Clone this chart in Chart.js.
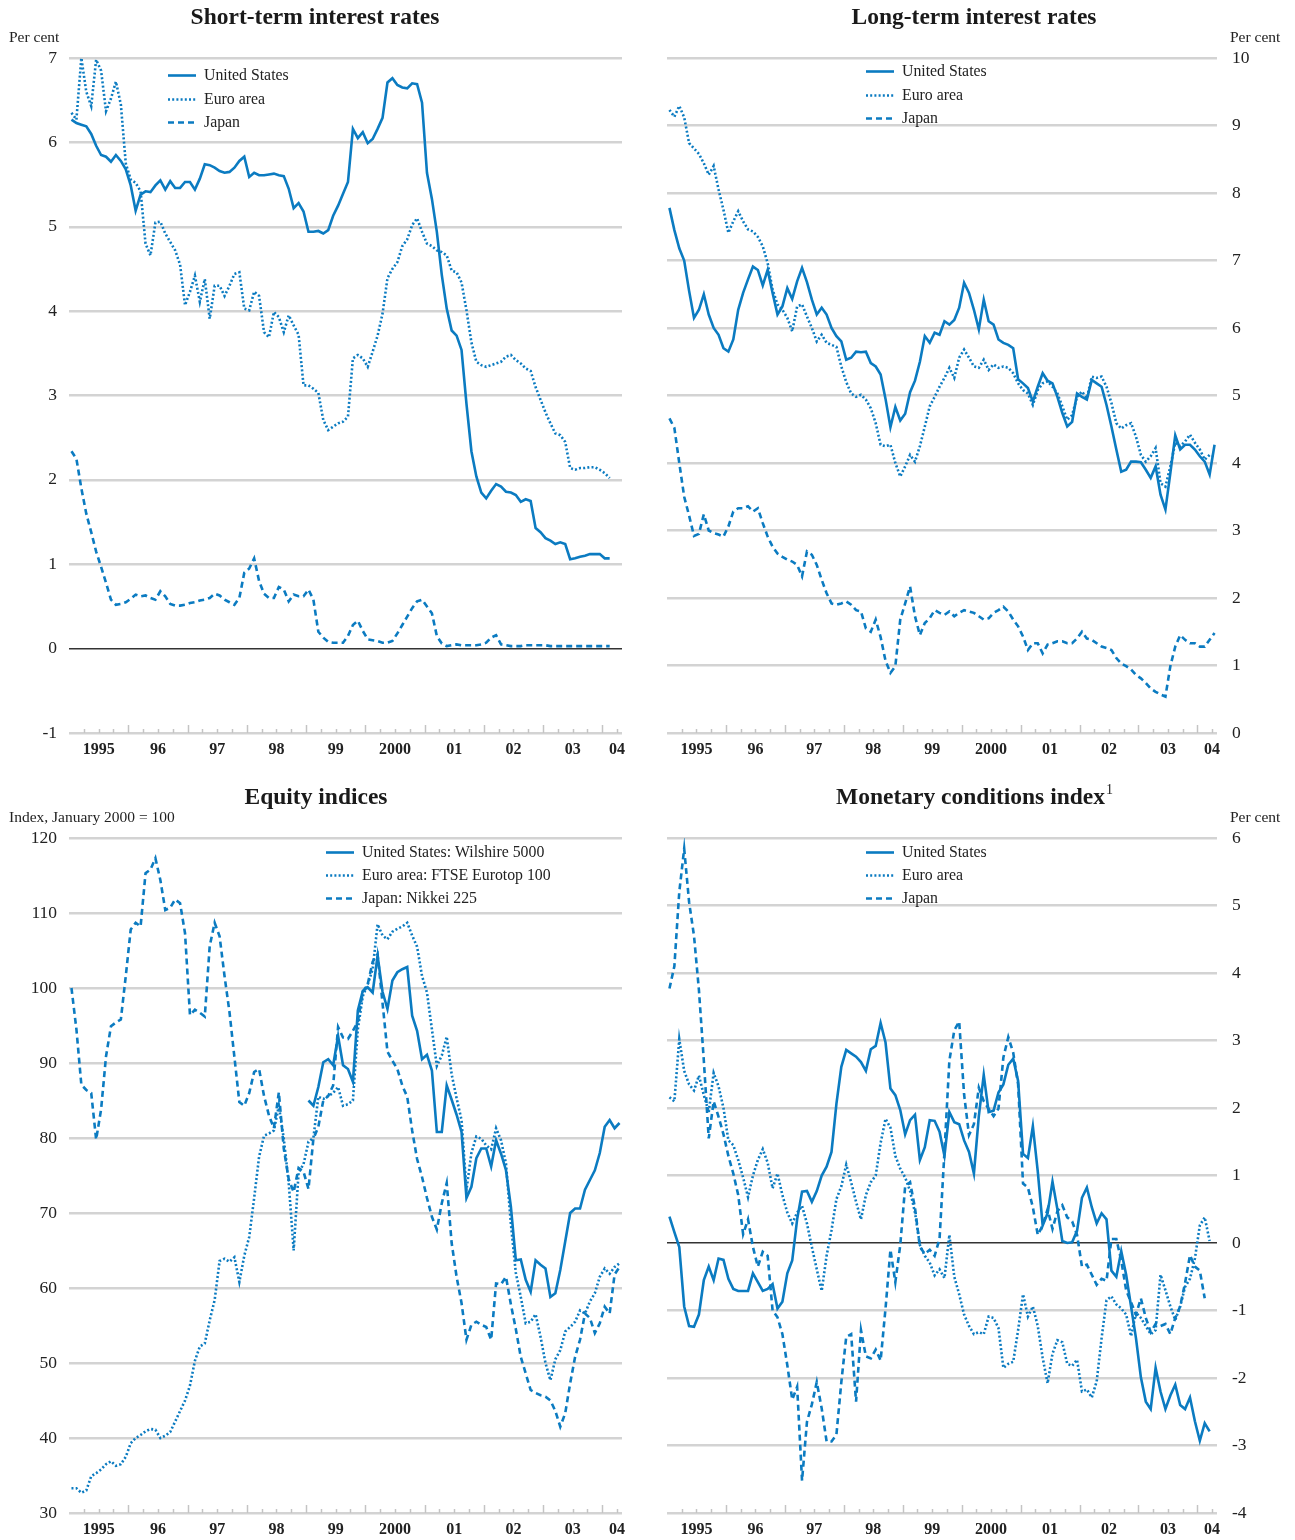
<!DOCTYPE html>
<html>
<head>
<meta charset="utf-8">
<script src="https://cdn.jsdelivr.net/npm/chart.js@4.4.1/dist/chart.umd.min.js"></script>
<style>
  html, body { margin: 0; padding: 0; background: #fff; }
  #wrap { position: relative; width: 1295px; height: 1540px; }
  .panel { position: absolute; }
</style>
</head>
<body>
<div id="wrap">
  <div class="panel" style="left:0;top:0"><canvas id="c1" width="647" height="780"></canvas></div>
  <div class="panel" style="left:647px;top:0"><canvas id="c2" width="648" height="780"></canvas></div>
  <div class="panel" style="left:0;top:780px"><canvas id="c3" width="647" height="760"></canvas></div>
  <div class="panel" style="left:647px;top:780px"><canvas id="c4" width="648" height="760"></canvas></div>
</div>
<script>
// monthly data, first value = January 1995
const yearLabels = ['1995', '96', '97', '98', '99', '2000', '01', '02', '03', '04'];
const countryLabels = ['United States', 'Euro area', 'Japan'];
const equityLabels = ['United States: Wilshire 5000', 'Euro area: FTSE Eurotop 100', 'Japan: Nikkei 225'];

// short-term interest rates, Jan 1995 - Feb 2004
const shortUs = [6.27,6.23,6.21,6.19,6.10,5.96,5.85,5.83,5.77,5.85,
  5.78,5.68,5.49,5.19,5.38,5.42,5.41,5.49,5.55,5.44,
  5.54,5.46,5.46,5.53,5.53,5.44,5.57,5.74,5.73,5.70,
  5.66,5.64,5.65,5.70,5.78,5.83,5.59,5.64,5.61,5.61,
  5.62,5.63,5.61,5.60,5.45,5.22,5.28,5.18,4.94,4.94,
  4.95,4.92,4.96,5.13,5.25,5.39,5.53,6.16,6.05,6.12,
  5.99,6.04,6.16,6.29,6.71,6.76,6.68,6.65,6.64,6.70,
  6.69,6.47,5.64,5.33,4.94,4.43,4.03,3.77,3.71,3.54,
  2.90,2.34,2.04,1.85,1.78,1.87,1.95,1.92,1.86,1.85,
  1.82,1.74,1.77,1.75,1.43,1.38,1.31,1.28,1.24,1.26,
  1.24,1.06,1.07,1.09,1.10,1.12,1.12,1.12,1.07,1.07];
const shortEuro = [6.35,6.27,7.0,6.6,6.43,6.98,6.85,6.37,6.52,6.72,
  6.45,5.75,5.56,5.52,5.42,4.80,4.66,5.05,5.06,4.92,
  4.82,4.72,4.55,4.07,4.23,4.42,4.11,4.38,3.91,4.30,
  4.30,4.18,4.30,4.44,4.46,4.03,4.01,4.23,4.18,3.75,
  3.69,3.99,3.93,3.75,3.95,3.83,3.72,3.12,3.12,3.08,
  3.03,2.71,2.59,2.63,2.67,2.69,2.75,3.44,3.48,3.44,
  3.34,3.52,3.71,3.97,4.39,4.50,4.58,4.77,4.85,5.02,
  5.10,4.94,4.80,4.77,4.72,4.70,4.66,4.48,4.46,4.34,
  4.01,3.63,3.40,3.36,3.34,3.36,3.38,3.40,3.46,3.48,
  3.42,3.38,3.32,3.29,3.10,2.95,2.80,2.67,2.55,2.53,
  2.45,2.14,2.12,2.14,2.14,2.15,2.15,2.12,2.08,2.02];
const shortJapan = [2.34,2.25,1.90,1.60,1.38,1.15,0.97,0.78,0.58,0.52,
  0.53,0.55,0.59,0.64,0.62,0.63,0.60,0.58,0.68,0.62,
  0.53,0.51,0.51,0.52,0.54,0.55,0.57,0.58,0.60,0.65,
  0.63,0.58,0.55,0.52,0.60,0.90,0.95,1.07,0.80,0.65,
  0.60,0.60,0.73,0.70,0.56,0.64,0.62,0.62,0.70,0.58,
  0.20,0.13,0.08,0.07,0.07,0.07,0.15,0.28,0.33,0.21,
  0.11,0.10,0.09,0.07,0.07,0.09,0.18,0.28,0.38,0.48,
  0.56,0.58,0.50,0.42,0.15,0.06,0.03,0.04,0.05,0.04,
  0.04,0.04,0.04,0.05,0.07,0.13,0.16,0.05,0.04,0.03,
  0.03,0.03,0.04,0.04,0.04,0.04,0.04,0.03,0.03,0.03,
  0.03,0.03,0.03,0.03,0.03,0.03,0.03,0.03,0.03,0.03];

// long-term interest rates, Jan 1995 - Apr 2004
const longUs = [7.78,7.45,7.18,7.00,6.55,6.15,6.27,6.50,6.20,6.00,
  5.90,5.70,5.65,5.83,6.27,6.52,6.72,6.91,6.86,6.63,
  6.86,6.52,6.20,6.32,6.59,6.43,6.69,6.89,6.68,6.42,
  6.20,6.30,6.20,6.00,5.88,5.80,5.53,5.56,5.65,5.64,
  5.65,5.48,5.43,5.31,4.95,4.53,4.83,4.63,4.73,5.05,
  5.22,5.50,5.88,5.78,5.93,5.90,6.10,6.05,6.12,6.30,
  6.67,6.52,6.27,5.98,6.42,6.10,6.05,5.83,5.78,5.75,
  5.70,5.24,5.18,5.11,4.91,5.13,5.33,5.22,5.18,4.98,
  4.74,4.54,4.61,5.03,4.98,4.94,5.23,5.18,5.13,4.86,
  4.54,4.20,3.87,3.90,4.02,4.02,4.01,3.90,3.78,3.95,
  3.53,3.31,3.85,4.41,4.20,4.27,4.27,4.20,4.10,4.02,
  3.83,4.27];
const longEuro = [9.23,9.13,9.29,9.12,8.74,8.66,8.58,8.44,8.27,8.40,
  8.05,7.75,7.41,7.58,7.73,7.58,7.46,7.43,7.35,7.21,
  6.96,6.57,6.35,6.27,6.15,5.95,6.32,6.35,6.17,6.00,
  5.80,5.90,5.78,5.75,5.72,5.43,5.20,5.03,4.98,5.01,
  4.94,4.81,4.59,4.27,4.25,4.27,4.00,3.80,3.95,4.12,
  4.02,4.25,4.54,4.84,4.98,5.13,5.26,5.41,5.26,5.56,
  5.68,5.56,5.43,5.41,5.53,5.38,5.46,5.41,5.43,5.41,
  5.33,5.18,5.08,5.03,4.86,5.08,5.18,5.21,5.13,5.03,
  4.84,4.64,4.71,4.98,5.06,4.96,5.28,5.26,5.28,5.13,
  4.89,4.59,4.51,4.56,4.59,4.39,4.12,4.02,4.10,4.22,
  3.70,3.65,3.95,4.30,4.25,4.32,4.42,4.30,4.20,4.05,
  4.12,4.10];
const longJapan = [4.66,4.52,4.00,3.50,3.22,2.92,2.95,3.24,3.00,2.96,
  2.94,2.91,3.06,3.28,3.33,3.33,3.36,3.28,3.33,3.11,
  2.91,2.76,2.66,2.61,2.57,2.54,2.49,2.32,2.69,2.64,
  2.49,2.27,2.07,1.92,1.90,1.92,1.95,1.90,1.82,1.80,
  1.55,1.50,1.68,1.42,1.07,0.89,0.99,1.68,1.92,2.17,
  1.73,1.45,1.63,1.70,1.82,1.78,1.75,1.80,1.73,1.78,
  1.82,1.80,1.78,1.73,1.68,1.70,1.78,1.82,1.87,1.80,
  1.68,1.58,1.43,1.23,1.33,1.33,1.18,1.31,1.33,1.36,
  1.36,1.33,1.33,1.40,1.50,1.40,1.38,1.33,1.28,1.26,
  1.23,1.11,1.03,0.99,0.94,0.86,0.81,0.74,0.66,0.61,
  0.57,0.54,0.99,1.28,1.45,1.38,1.33,1.33,1.28,1.28,
  1.38,1.48];

// equity indices, January 2000 = 100; US series starts January 1999
const equityUsStart = 48;
const equityUs = [85.0,84.3,86.8,90.1,90.5,89.7,93.6,89.7,89.2,87.5,
  97.0,99.6,100.1,99.4,104.3,99.5,97.2,101.0,102.1,102.5,
  102.8,96.3,94.3,90.5,91.1,89.0,80.8,80.8,87.0,85.1,
  83.1,80.8,72.0,73.5,77.3,78.6,78.6,76.2,79.7,77.9,
  75.7,70.8,63.7,63.8,61.1,59.5,63.7,63.1,62.6,58.8,
  59.3,62.4,66.2,70.0,70.6,70.6,73.1,74.4,75.7,78.0,
  81.5,82.4,81.3,82.0];
const equityEuro = [33.3,33.3,32.7,33.0,34.9,35.3,35.8,36.5,36.9,36.3,
  36.5,37.5,39.3,40.0,40.4,40.9,41.2,41.1,40.0,40.3,
  40.8,42.2,43.6,45.0,47.0,50.3,52.2,52.6,55.7,58.4,
  63.6,63.9,63.5,64.1,60.8,64.3,66.8,72.0,77.5,80.3,
  80.6,81.0,84.3,79.9,74.0,65.0,75.4,76.5,79.5,80.0,
  85.5,85.2,85.6,86.0,86.8,84.3,84.5,85.0,94.5,98.9,
  100.5,102.5,108.5,107.0,106.5,107.5,107.9,108.2,108.7,107.0,
  105.5,101.6,99.4,94.5,89.6,91.0,93.5,88.5,85.3,82.4,
  73.1,78.0,80.2,79.9,79.0,78.5,81.3,79.7,76.6,68.5,
  62.0,58.8,55.3,55.5,56.5,53.5,50.0,47.7,50.5,51.7,
  54.2,54.8,55.5,57.0,56.6,58.2,59.3,61.5,62.6,61.9,
  62.8,63.3];
const equityJapan = [100,94.5,87.1,86.4,86.0,79.8,83.8,90.9,94.9,95.4,
  95.8,101.6,107.8,108.7,108.2,115.3,115.8,117.3,114.4,110.4,
  110.7,111.8,111.3,107.3,96.4,97.1,96.7,96.2,105.6,108.7,
  106.9,101.6,96.8,90.8,84.8,84.3,86.0,88.8,89.2,85.6,
  83.0,81.3,86.1,78.6,74.5,72.8,76.0,75.5,73.2,79.9,
  81.5,85.0,85.6,87.0,94.8,93.4,93.2,94.3,95.5,99.5,
  100.5,103.5,104.5,98.0,91.5,90.3,89.2,87.0,85.5,81.0,
  77.2,74.8,72.0,69.5,67.8,71.3,74.0,66.0,61.5,58.0,
  53.1,55.1,55.5,55.1,54.8,53.1,60.6,60.5,61.5,57.8,
  54.5,50.8,48.6,46.4,46.0,45.7,45.5,45.0,43.6,41.5,
  43.3,47.3,50.8,53.1,56.6,56.0,54.0,55.3,57.5,56.6,
  61.8,62.8];

// monetary conditions index
const mciUs = [0.39,0.16,-0.06,-0.94,-1.23,-1.24,-1.06,-0.55,-0.35,-0.55,
  -0.23,-0.25,-0.53,-0.68,-0.71,-0.71,-0.71,-0.45,-0.58,-0.71,
  -0.68,-0.61,-0.97,-0.87,-0.45,-0.26,0.35,0.76,0.77,0.61,
  0.77,1.00,1.13,1.35,2.06,2.61,2.86,2.81,2.76,2.68,
  2.55,2.87,2.92,3.26,2.97,2.29,2.19,1.97,1.61,1.82,
  1.90,1.23,1.42,1.82,1.81,1.65,1.29,1.94,1.79,1.76,
  1.52,1.35,1.03,1.88,2.49,1.94,1.96,2.23,2.35,2.64,
  2.73,2.40,1.32,1.26,1.73,1.06,0.26,0.44,0.91,0.50,
  0.03,0.00,0.01,0.18,0.67,0.82,0.53,0.29,0.44,0.35,
  -0.41,-0.50,-0.12,-0.47,-0.94,-1.41,-1.99,-2.35,-2.46,-1.85,
  -2.20,-2.46,-2.26,-2.10,-2.40,-2.46,-2.29,-2.64,-2.93,-2.67,
  -2.79];
const mciEuro = [2.16,2.10,3.02,2.55,2.35,2.26,2.48,2.19,1.94,2.52,
  2.32,2.00,1.52,1.45,1.23,0.97,0.68,1.00,1.23,1.39,
  1.19,0.81,1.03,0.71,0.45,0.29,0.45,0.55,0.29,-0.06,
  -0.39,-0.71,-0.19,0.19,0.65,0.84,1.16,0.90,0.61,0.35,
  0.71,0.90,1.00,1.48,1.84,1.71,1.29,1.10,0.97,0.77,
  0.45,-0.03,-0.19,-0.29,-0.48,-0.39,-0.52,0.12,-0.50,-0.76,
  -1.06,-1.23,-1.35,-1.32,-1.35,-1.09,-1.11,-1.26,-1.85,-1.79,
  -1.76,-1.29,-0.76,-1.09,-0.94,-1.23,-1.70,-2.08,-1.64,-1.44,
  -1.47,-1.79,-1.82,-1.73,-2.20,-2.17,-2.29,-2.05,-1.41,-0.85,
  -0.79,-0.91,-0.97,-1.06,-1.38,-1.03,-1.11,-1.23,-1.35,-1.29,
  -0.47,-0.70,-0.94,-1.14,-0.94,-0.65,-0.53,-0.23,0.26,0.38,
  0.03];
const mciJapan = [3.77,4.10,5.20,5.84,5.05,4.55,3.75,2.70,1.55,2.10,
  1.87,1.61,1.29,1.03,0.71,0.13,0.35,-0.06,-0.35,-0.13,
  -0.19,-1.00,-1.10,-1.35,-1.81,-2.32,-2.13,-3.52,-2.65,-2.39,
  -2.06,-2.45,-2.94,-2.94,-2.84,-2.06,-1.39,-1.35,-2.35,-1.29,
  -1.68,-1.71,-1.58,-1.74,-0.97,-0.10,-0.58,-0.03,0.84,0.90,
  0.52,-0.06,-0.16,-0.10,-0.19,0.06,1.35,2.70,3.15,3.28,
  2.20,1.60,1.76,2.30,2.10,1.99,1.88,1.99,2.75,3.05,
  2.82,2.35,0.88,0.82,0.53,0.12,0.26,0.50,0.21,0.47,
  0.56,0.38,0.32,0.12,-0.35,-0.32,-0.47,-0.62,-0.53,-0.56,
  0.06,0.06,-0.26,-0.70,-0.88,-1.06,-0.82,-1.11,-1.32,-1.20,
  -1.23,-1.20,-1.35,-1.11,-0.94,-0.59,-0.18,-0.35,-0.41,-0.82];

const BLUE = '#0b7bc1';
const GRID = '#d3d3d3';
const TEXT = '#222';
const SERIF = '"Liberation Serif", "Times New Roman", serif';
const X_MAX = 112;
const styles = [[], [2, 2.2], [6, 4]];

// months are plotted at mid-month, month 0 = Jan 1995
const toXY = (vals, start) => vals.map((v, i) => ({ x: start + i + 0.5, y: v }));

const makeSets = (arrs, starts) => arrs.map((a, k) => ({
  data: toXY(a, starts[k]),
  borderColor: BLUE,
  borderWidth: 2.6,
  borderDash: styles[k],
  borderCapStyle: 'butt',
  pointRadius: 0,
  tension: 0,
  fill: false
}));

const deco = {
  id: 'deco',
  afterDraw(chart, args, o) {
    const ctx = chart.ctx, area = chart.chartArea, xs = chart.scales.x;
    ctx.save();
    // quarterly and yearly tick marks on the base line
    ctx.strokeStyle = '#c4c4c4';
    ctx.lineWidth = 1.5;
    for (let m = 3; m < X_MAX; m += 3) {
      const px = Math.round(xs.getPixelForValue(m)) + 0.5;
      const len = m % 12 === 0 ? 8 : 4;
      ctx.beginPath();
      ctx.moveTo(px, area.bottom);
      ctx.lineTo(px, area.bottom - len);
      ctx.stroke();
    }
    ctx.fillStyle = TEXT;
    ctx.font = 'bold 16px ' + SERIF;
    ctx.textAlign = 'center';
    ctx.textBaseline = 'middle';
    yearLabels.forEach((lab, k) => {
      const mid = k * 12 + 12 > X_MAX ? X_MAX - 1 : k * 12 + 6;
      ctx.fillText(lab, xs.getPixelForValue(mid), area.bottom + 17);
    });
    // title
    ctx.font = 'bold 23.5px ' + SERIF;
    ctx.fillStyle = '#1a1a1a';
    if (o.sup) {
      const w = ctx.measureText(o.title).width;
      ctx.font = '14px ' + SERIF;
      const ws = ctx.measureText(o.sup).width;
      const x0 = o.titleX - (w + ws) / 2;
      ctx.textAlign = 'left';
      ctx.font = 'bold 23.5px ' + SERIF;
      ctx.fillText(o.title, x0, 18);
      ctx.font = '14px ' + SERIF;
      ctx.fillText(o.sup, x0 + w + 1, 10);
    } else {
      ctx.textAlign = 'center';
      ctx.fillText(o.title, o.titleX, 18);
    }
    // unit
    ctx.font = '15.5px ' + SERIF;
    ctx.fillStyle = TEXT;
    ctx.textAlign = 'left';
    ctx.fillText(o.unit, o.unitX, 38);
    // legend
    ctx.font = '15.8px ' + SERIF;
    chart.data.datasets.forEach((ds, k) => {
      const y = Math.round(o.legendY + k * o.legendGap) + 0.5;
      ctx.strokeStyle = ds.borderColor;
      ctx.lineWidth = 2.6;
      ctx.setLineDash(ds.borderDash);
      ctx.beginPath();
      ctx.moveTo(o.legendX, y);
      ctx.lineTo(o.legendX + 28, y);
      ctx.stroke();
      ctx.setLineDash([]);
      ctx.fillText(o.labels[k], o.legendX + 36, y);
    });
    ctx.restore();
  }
};

function makeChart(id, opts) {
  const right = opts.side === 'right';
  return new Chart(document.getElementById(id), {
    type: 'line',
    data: { datasets: makeSets(opts.series, opts.starts) },
    plugins: [deco],
    options: {
      responsive: false,
      animation: false,
      events: [],
      layout: { padding: { top: 58, left: right ? 20 : 0, right: right ? 0 : 25, bottom: 0 } },
      plugins: { legend: { display: false }, tooltip: { enabled: false }, deco: opts.deco },
      scales: {
        x: {
          type: 'linear', min: 0, max: X_MAX,
          ticks: { display: false },
          grid: { display: false, drawTicks: false },
          border: { display: false },
          afterFit: s => { s.height = opts.bottom; }
        },
        y: {
          position: opts.side,
          min: opts.min, max: opts.max,
          ticks: {
            stepSize: opts.step,
            padding: right ? 15 : 12,
            color: TEXT,
            font: { family: SERIF, size: 17.5 }
          },
          grid: {
            drawTicks: false,
            color: c => (c.tick.value === 0 && opts.min < 0) ? '#333' : GRID,
            lineWidth: c => (c.tick.value === 0 && opts.min < 0) ? 1.4 : 2.5
          },
          border: { display: false },
          afterFit: s => { s.width = right ? 78 : 69; }
        }
      }
    }
  });
}

makeChart('c1', {
  series: [shortUs, shortEuro, shortJapan], starts: [0, 0, 0],
  side: 'left', min: -1, max: 7, step: 1, bottom: 47,
  deco: { title: 'Short-term interest rates', titleX: 315, unit: 'Per cent', unitX: 9,
    legendX: 168, legendY: 75, legendGap: 23.5, labels: countryLabels }
});
makeChart('c2', {
  series: [longUs, longEuro, longJapan], starts: [0, 0, 0],
  side: 'right', min: 0, max: 10, step: 1, bottom: 47,
  deco: { title: 'Long-term interest rates', titleX: 327, unit: 'Per cent', unitX: 583,
    legendX: 219, legendY: 71, legendGap: 23.5, labels: countryLabels }
});
makeChart('c3', {
  series: [equityUs, equityEuro, equityJapan], starts: [equityUsStart, 0, 0],
  side: 'left', min: 30, max: 120, step: 10, bottom: 27,
  deco: { title: 'Equity indices', titleX: 316, unit: 'Index, January 2000 = 100', unitX: 9,
    legendX: 326, legendY: 72, legendGap: 23, labels: equityLabels }
});
makeChart('c4', {
  series: [mciUs, mciEuro, mciJapan], starts: [0, 0, 0],
  side: 'right', min: -4, max: 6, step: 1, bottom: 27,
  deco: { title: 'Monetary conditions index', sup: '1', titleX: 327, unit: 'Per cent', unitX: 583,
    legendX: 219, legendY: 72, legendGap: 23, labels: countryLabels }
});
</script>
</body>
</html>
